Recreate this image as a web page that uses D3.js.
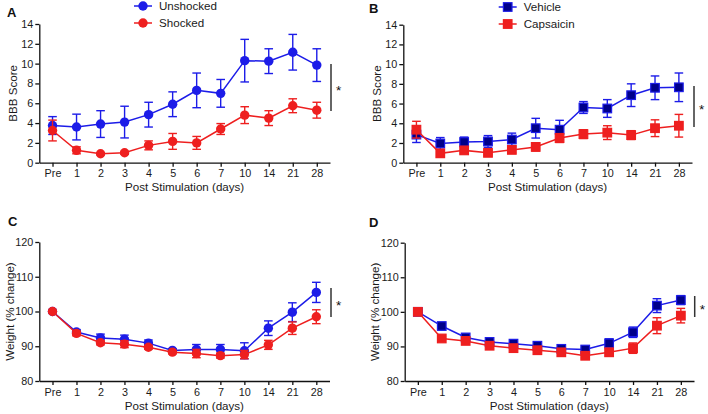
<!DOCTYPE html>
<html><head><meta charset="utf-8">
<script src="https://cdn.jsdelivr.net/npm/d3@7"></script>
<style>
body{margin:0;background:#fff;}
svg{display:block;font-family:"Liberation Sans",Arial,sans-serif;}
</style></head>
<body><svg id="c" width="708" height="414"></svg>
<script>
const categories = ["Pre","1","2","3","4","5","6","7","10","14","21","28"];

const unshockedBBB = [3.75,3.6,3.9,4.1,4.85,5.9,7.3,7.0,10.3,10.25,11.15,9.85];
const unshockedBBBErr = [0.9,1.3,1.35,1.6,1.25,1.25,1.75,1.4,2.15,1.25,1.8,1.65];
const shockedBBB = [3.25,1.25,0.9,1.0,1.75,2.15,2.0,3.4,4.8,4.5,5.75,5.3];
const shockedBBBErr = [1.05,0.35,0.1,0.15,0.45,0.8,0.65,0.55,0.85,0.75,0.7,0.8];

const vehicleBBB = [2.85,1.95,2.1,2.15,2.35,3.5,3.35,5.6,5.5,6.85,7.6,7.65];
const vehicleBBBErr = [0.8,0.6,0.5,0.6,0.65,1.0,0.95,0.6,0.9,1.15,1.2,1.45];
const capsaicinBBB = [3.35,0.95,1.25,1.0,1.3,1.6,2.5,2.9,3.05,2.8,3.5,3.75];
const capsaicinBBBErr = [0.85,0.25,0.3,0.2,0.3,0.4,0.45,0.45,0.7,0.45,0.85,1.15];

const unshockedWeight = [100,94.1,92.4,92.0,90.9,88.8,89.1,89.1,88.7,95.2,99.8,105.5];
const unshockedWeightErr = [0.3,0.7,1.1,1.2,0.9,0.5,1.4,1.4,2.3,2.1,2.7,2.9];
const shockedWeight = [100,93.7,91.0,90.6,89.7,88.3,87.9,87.3,87.6,90.4,95.2,98.5];
const shockedWeightErr = [0.3,0.7,0.6,1.0,0.6,0.5,1.2,0.7,1.2,1.3,1.8,2.0];

const vehicleWeight = [100,95.9,92.6,91.3,90.8,90.2,89.3,89.1,90.9,94.1,101.8,103.4];
const vehicleWeightErr = [0.3,0.8,0.5,0.5,0.5,0.5,0.5,0.6,1.3,1.5,2.0,1.3];
const capsaicinWeight = [100,92.3,91.6,90.2,89.5,88.9,88.3,87.3,88.3,89.5,96.0,98.9];
const capsaicinWeightErr = [0.3,0.5,0.5,0.5,0.5,0.5,0.5,0.6,1.1,1.5,2.3,2.1];

const bbbTicks = [0,2,4,6,8,10,12,14];
const weightTicks = [80,90,100,110,120];

const BLUE = "#1c1ce8", RED = "#ee1f1f", NAVY = "#00008a";
const svg = d3.select("#c");

function panel(o){
  const g = svg.append("g");
  const x = d3.scalePoint().domain(categories).range([o.x0, o.x1]).padding(0.55);
  const y = d3.scaleLinear().domain(o.yDomain).range([o.yb, o.yt]);
  const xa = g.append("g").attr("transform",`translate(0,${o.yb})`)
    .call(d3.axisBottom(x).tickSize(4).tickSizeOuter(0).tickPadding(3));
  const ya = g.append("g").attr("transform",`translate(${o.x0},0)`)
    .call(d3.axisLeft(y).tickValues(o.ticks).tickSize(4).tickSizeOuter(0).tickPadding(2));
  [xa,ya].forEach(a=>{
    a.selectAll("path,line").attr("stroke","#111").attr("stroke-width",1.3);
    a.selectAll("text").attr("font-size",10.8).attr("fill","#1a1a1a");
  });
  g.append("text").attr("x",(o.x0+o.x1)/2).attr("y",o.yb+28.5).attr("text-anchor","middle")
    .attr("font-size",11.6).attr("fill","#1a1a1a").text("Post Stimulation (days)");
  g.append("text").attr("transform",`translate(${o.ytx},${(o.yb+o.yt)/2}) rotate(-90)`)
    .attr("text-anchor","middle").attr("font-size",11.6).attr("fill","#1a1a1a").text(o.ytitle);
  g.append("text").attr("x",o.lx).attr("y",o.ly).attr("font-size",13).attr("font-weight","bold")
    .attr("fill","#111").text(o.letter);
  g.append("line").attr("x1",o.sx).attr("x2",o.sx).attr("y1",o.sy0).attr("y2",o.sy1)
    .attr("stroke","#333").attr("stroke-width",1.5);
  g.append("text").attr("x",o.sx+5).attr("y",(o.sy0+o.sy1)/2+7).attr("font-size",13.5)
    .attr("fill","#111").text("*");
  o.series.forEach(s=>{
    const pts = categories.map((c,i)=>({c, v:s.v[i], e:s.e[i]}));
    const sg = g.append("g");
    pts.forEach(p=>{
      const cx = x(p.c);
      sg.append("line").attr("x1",cx).attr("x2",cx).attr("y1",y(p.v-p.e)).attr("y2",y(p.v+p.e))
        .attr("stroke",s.color).attr("stroke-width",1.4);
      [p.v-p.e,p.v+p.e].forEach(vv=>sg.append("line").attr("x1",cx-4.3).attr("x2",cx+4.3)
        .attr("y1",y(vv)).attr("y2",y(vv)).attr("stroke",s.color).attr("stroke-width",1.4));
    });
    sg.append("path").datum(pts).attr("fill","none").attr("stroke",s.color).attr("stroke-width",1.5)
      .attr("d",d3.line().x(d=>x(d.c)).y(d=>y(d.v)));
    pts.forEach(p=>marker(sg,s,x(p.c),y(p.v)));
  });
  if(o.legend){
    o.series.forEach((s,i)=>{
      const ly = o.legend.y + i*17;
      g.append("line").attr("x1",o.legend.x-9).attr("x2",o.legend.x+9).attr("y1",ly).attr("y2",ly)
        .attr("stroke",s.color).attr("stroke-width",1.5);
      marker(g,s,o.legend.x,ly);
      g.append("text").attr("x",o.legend.x+16).attr("y",ly+4.2).attr("font-size",11.6)
        .attr("fill","#1a1a1a").text(s.name);
    });
  }
}
function marker(g,s,cx,cy){
  if(s.shape==="circle"){
    g.append("circle").attr("cx",cx).attr("cy",cy).attr("r",4.7).attr("fill",s.color);
  } else {
    g.append("rect").attr("x",cx-4.3).attr("y",cy-4.3).attr("width",8.6).attr("height",8.6)
      .attr("fill",s.fill||s.color).attr("stroke",s.color).attr("stroke-width",1.2);
  }
}

panel({x0:39.3,x1:330,yb:162.7,yt:24,yDomain:[0,14],ticks:bbbTicks,ytitle:"BBB Score",ytx:17,
  letter:"A",lx:7,ly:17,sx:331,sy0:64,sy1:111,
  legend:{x:143,y:6},
  series:[{name:"Unshocked",v:unshockedBBB,e:unshockedBBBErr,color:BLUE,shape:"circle"},
          {name:"Shocked",v:shockedBBB,e:shockedBBBErr,color:RED,shape:"circle"}]});
panel({x0:403.3,x1:692,yb:162.7,yt:24.7,yDomain:[0,14],ticks:bbbTicks,ytitle:"BBB Score",ytx:381,
  letter:"B",lx:369,ly:13,sx:694,sy0:86,sy1:127,
  legend:{x:507.7,y:7},
  series:[{name:"Vehicle",v:vehicleBBB,e:vehicleBBBErr,color:BLUE,fill:NAVY,shape:"square"},
          {name:"Capsaicin",v:capsaicinBBB,e:capsaicinBBBErr,color:RED,shape:"square"}]});
panel({x0:39.3,x1:329.5,yb:381,yt:242,yDomain:[80,120],ticks:weightTicks,ytitle:"Weight (% change)",ytx:14,
  letter:"C",lx:8,ly:225.5,sx:331,sy0:288,sy1:317,
  series:[{name:"Unshocked",v:unshockedWeight,e:unshockedWeightErr,color:BLUE,shape:"circle"},
          {name:"Shocked",v:shockedWeight,e:shockedWeightErr,color:RED,shape:"circle"}]});
panel({x0:404.7,x1:694,yb:381,yt:242.7,yDomain:[80,120],ticks:weightTicks,ytitle:"Weight (% change)",ytx:379,
  letter:"D",lx:369,ly:226.5,sx:694.7,sy0:296,sy1:317,
  series:[{name:"Vehicle",v:vehicleWeight,e:vehicleWeightErr,color:BLUE,fill:NAVY,shape:"square"},
          {name:"Capsaicin",v:capsaicinWeight,e:capsaicinWeightErr,color:RED,shape:"square"}]});
</script></body></html>
